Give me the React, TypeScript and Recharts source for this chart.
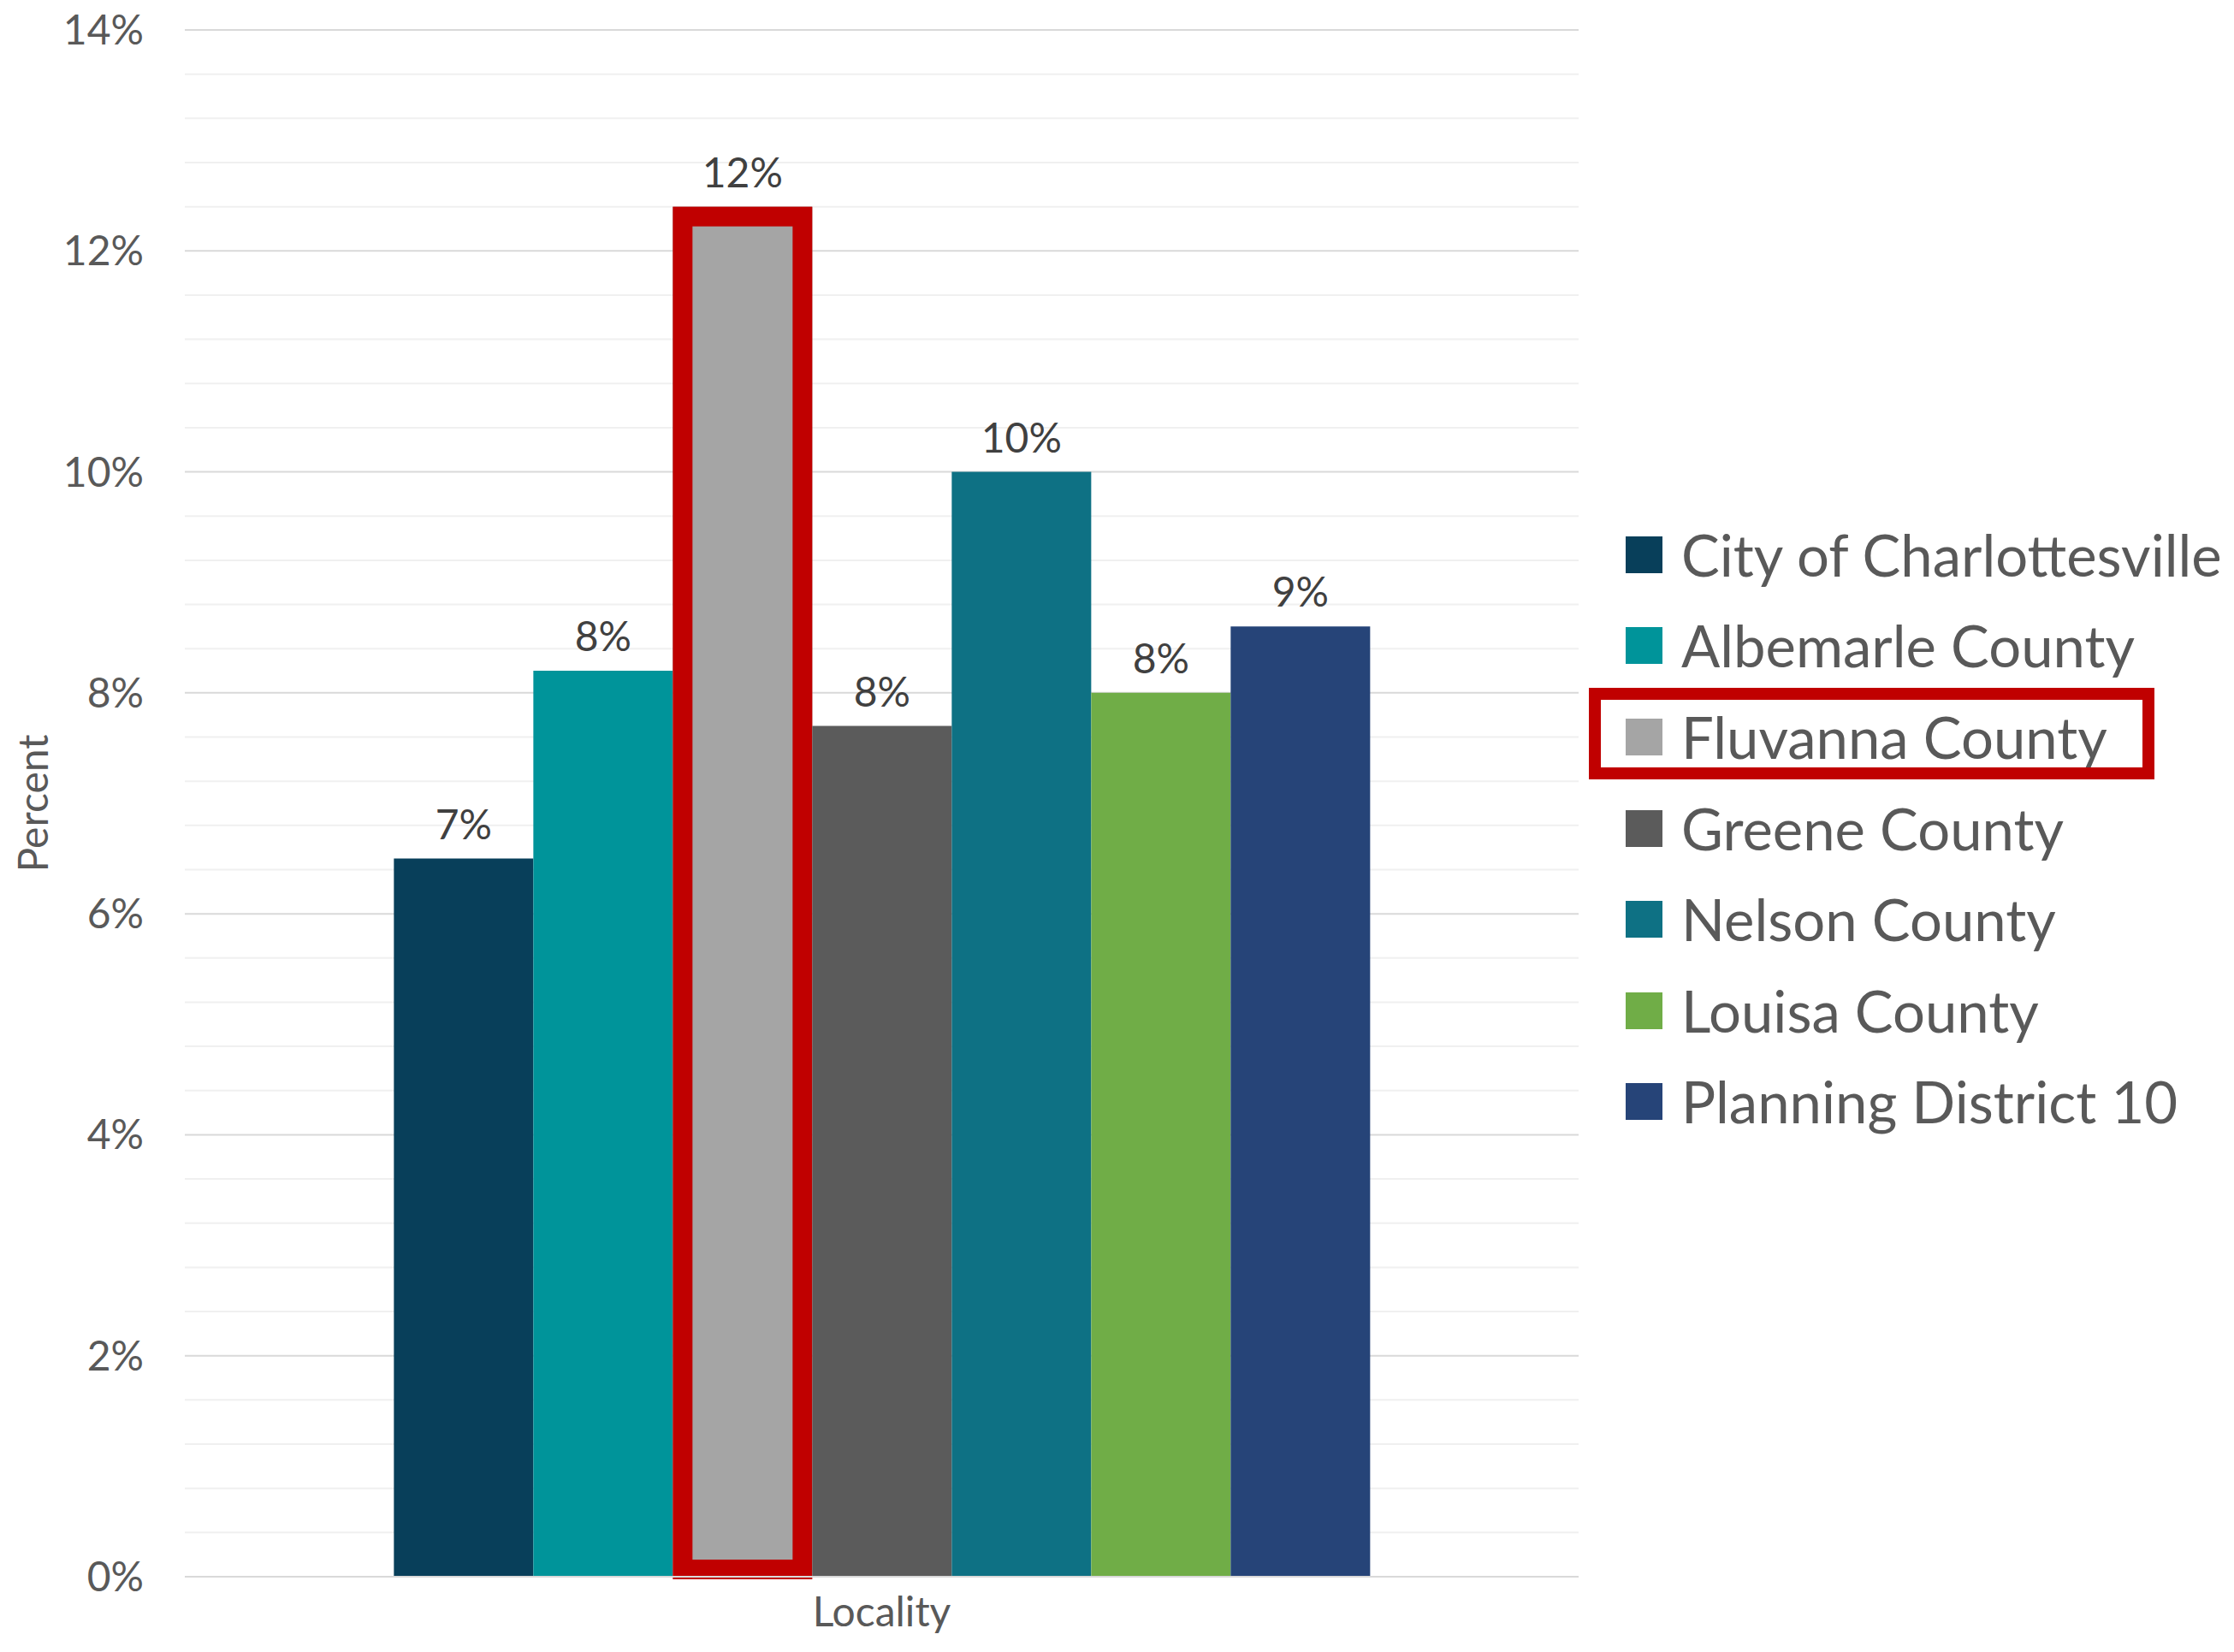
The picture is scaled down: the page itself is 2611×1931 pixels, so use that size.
import React from "react";
import {
  Bar,
  BarChart,
  CartesianGrid,
  LabelList,
  Legend,
  XAxis,
  YAxis,
} from "recharts";

// ── Data ──────────────────────────────────────────────────────────────────────

const categories = ["Locality"];

const seriesKeys = ["cville", "albemarle", "fluvanna", "greene", "nelson", "louisa", "pd10"];
const seriesNames = [
  "City of Charlottesville",
  "Albemarle County",
  "Fluvanna County",
  "Greene County",
  "Nelson County",
  "Louisa County",
  "Planning District 10",
];
const seriesValues = [6.5, 8.2, 12.4, 7.7, 10.0, 8.0, 8.6];
const seriesColors = ["#083F5A", "#00949A", "#A5A5A5", "#5B5B5B", "#0E7184", "#70AD47", "#264478"];

const highlighted = "fluvanna";

// labelled (major) ticks, and every gridline position (minor unit 0.4%)
const yTicks = [0, 2, 4, 6, 8, 10, 12, 14];
const gridTicks = [
  0, 0.4, 0.8, 1.2, 1.6, 2, 2.4, 2.8, 3.2, 3.6, 4, 4.4, 4.8, 5.2, 5.6, 6, 6.4, 6.8,
  7.2, 7.6, 8, 8.4, 8.8, 9.2, 9.6, 10, 10.4, 10.8, 11.2, 11.6, 12, 12.4, 12.8, 13.2,
  13.6, 14,
];

const data = categories.map((name) => {
  const row: Record<string, string | number> = { name };
  seriesKeys.forEach((k, i) => (row[k] = seriesValues[i]));
  return row;
});

// ── Styling ───────────────────────────────────────────────────────────────────

const FONT = "Lato, 'Open Sans', sans-serif";
const RED = "#C00000";
const AXIS_TEXT = "#595959";
const FRAME = 23;

// grey bar with the thick red frame drawn over it
function HighlightBar(props: any) {
  const { x, y, width, height, fill } = props;
  return (
    <g>
      <rect x={x} y={y} width={width} height={height} fill={fill} />
      <rect
        x={x + FRAME / 2}
        y={y + FRAME / 2}
        width={width - FRAME}
        height={height + 3 - FRAME}
        fill="none"
        stroke={RED}
        strokeWidth={FRAME}
      />
    </g>
  );
}

// major lines darker than the minor ones
function GridLine(props: any) {
  const { x1, x2, y1, y2, index } = props;
  const major = yTicks.includes(gridTicks[index]);
  return (
    <line
      x1={x1}
      x2={x2}
      y1={y1}
      y2={y2}
      stroke={major ? "#D9D9D9" : "#F0F0F0"}
      strokeWidth={2}
    />
  );
}

function LegendBox({ payload }: any) {
  const items = [...(payload || [])].sort(
    (a: any, b: any) => seriesKeys.indexOf(a.dataKey) - seriesKeys.indexOf(b.dataKey)
  );
  return (
    <div style={{ fontFamily: FONT, fontSize: 67, color: AXIS_TEXT }}>
      {items.map((p: any) => {
        const isHi = p.dataKey === highlighted;
        return (
          <div
            key={p.value}
            style={{ position: "relative", height: 106.6, display: "flex", alignItems: "center", paddingLeft: 43 }}
          >
            {isHi && (
              <div
                style={{
                  position: "absolute",
                  left: 0,
                  top: -4,
                  width: 661,
                  height: 107,
                  boxSizing: "border-box",
                  border: `14px solid ${RED}`,
                }}
              />
            )}
            <span
              style={{
                width: 43,
                height: 43,
                flexShrink: 0,
                background: p.color,
                display: "inline-block",
                marginRight: 22,
              }}
            />
            <span style={{ whiteSpace: "nowrap", lineHeight: 1 }}>{p.value}</span>
          </div>
        );
      })}
    </div>
  );
}

function PercentLabel({ viewBox }: any) {
  const cy = viewBox.y + viewBox.height / 2;
  return (
    <text
      x={37}
      y={cy}
      transform={`rotate(-90, 37, ${cy})`}
      textAnchor="middle"
      dominantBaseline="central"
      fill={AXIS_TEXT}
      fontSize={48}
      fontFamily={FONT}
    >
      Percent
    </text>
  );
}

export default function App() {
  return (
    <div style={{ position: "absolute", left: 0, top: 0, background: "#fff" }}>
      <BarChart
        width={2611}
        height={1931}
        data={data}
        margin={{ top: 35, right: 766, bottom: 0, left: 0 }}
        barGap={0}
        barCategoryGap="15%"
      >
        <CartesianGrid vertical={false} horizontal={(p: any) => <GridLine {...p} />} />
        <XAxis
          dataKey="name"
          height={88}
          tickLine={false}
          tickSize={0}
          tickMargin={24}
          axisLine={{ stroke: "#D9D9D9", strokeWidth: 2 }}
          tick={{ fill: AXIS_TEXT, fontSize: 48, fontFamily: FONT }}
        />
        <YAxis
          width={216}
          domain={[0, 14]}
          ticks={gridTicks}
          interval={0}
          tickFormatter={(v) => (yTicks.includes(v) ? `${v}%` : "")}
          tickLine={false}
          axisLine={false}
          tickSize={0}
          tickMargin={48}
          tick={{ fill: AXIS_TEXT, fontSize: 48, fontFamily: FONT }}
          label={<PercentLabel />}
        />
        <Legend
          layout="vertical"
          verticalAlign="middle"
          align="center"
          wrapperStyle={{ left: 1857, top: 595, width: 740 }}
          content={<LegendBox />}
        />
        {seriesKeys.map((k, i) => (
          <Bar
            key={k}
            dataKey={k}
            name={seriesNames[i]}
            fill={seriesColors[i]}
            isAnimationActive={false}
            shape={k === highlighted ? <HighlightBar /> : undefined}
          >
            <LabelList
              dataKey={k}
              position="top"
              offset={23}
              formatter={(v: any) => `${Math.round(Number(v))}%`}
              fill="#404040"
              fontSize={48}
              fontFamily={FONT}
            />
          </Bar>
        ))}
      </BarChart>
    </div>
  );
}
